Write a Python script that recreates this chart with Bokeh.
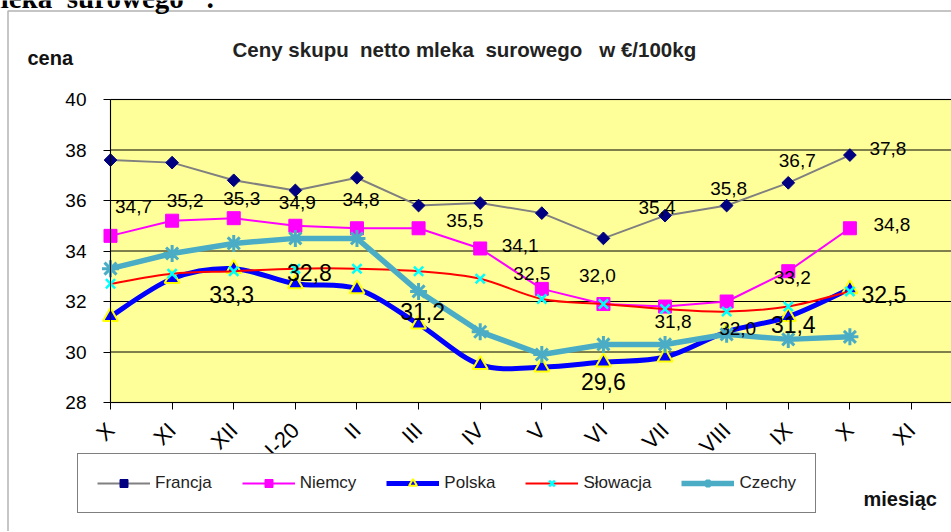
import math
from bokeh.plotting import figure
from bokeh.models import (ColumnDataSource, FixedTicker, Legend, LegendItem,
                          Label, Range1d, LinearAxis, BoxAnnotation)
from bokeh.core.properties import value
from bokeh.embed import file_html
from bokeh.resources import INLINE

# ---------------- data ----------------
months = ["X", "XI", "XII", "I-20", "II", "III", "IV", "V", "VI", "VII",
          "VIII", "IX", "X", "XI"]
y_ticks = [28, 30, 32, 34, 36, 38, 40]

francja = [37.6, 37.5, 36.8, 36.4, 36.9, 35.8, 35.9, 35.5, 34.5, 35.4, 35.8, 36.7, 37.8]
niemcy = [34.6, 35.2, 35.3, 35.0, 34.9, 34.9, 34.1, 32.5, 31.9, 31.8, 32.0, 33.2, 34.9]
polska = [31.4, 32.9, 33.3, 32.7, 32.5, 31.1, 29.5, 29.4, 29.6, 29.8, 30.8, 31.4, 32.5]
slowacja = [32.7, 33.1, 33.2, 33.3, 33.3, 33.2, 32.9, 32.1, 31.9, 31.7, 31.6, 31.8, 32.4]
czechy = [33.3, 33.9, 34.3, 34.5, 34.5, 32.4, 30.8, 29.9, 30.3, 30.3, 30.7, 30.5, 30.6]

series_names = ["Francja", "Niemcy", "Polska", "Słowacja", "Czechy"]

# data labels: (series, point index, text)
label_series = ["Francja"] * 5 + ["Niemcy"] * 12 + ["Polska"] * 6
label_index = [7, 9, 10, 11, 12,
               0, 1, 2, 3, 4, 6, 7, 8, 9, 10, 11, 12,
               2, 3, 5, 8, 11, 12]
label_text = ["35,5", "35,4", "35,8", "36,7", "37,8",
              "34,7", "35,2", "35,3", "34,9", "34,8", "34,1", "32,5", "32,0", "31,8", "32,0", "33,2", "34,8",
              "33,3", "32,8", "31,2", "29,6", "31,4", "32,5"]

header_text = "mleka\u00a0 surowego\u201d :"
title_text = "Ceny skupu\u00a0 netto mleka\u00a0 surowego\u00a0\u00a0 w €/100kg"
y_title = "cena"
x_title = "miesiąc"

# ---------------- styling / layout ----------------
label_dx = [-77, -8, 2, 9, 38,
            23, 13, 8, 2, 4, 40, -10, -6, 8, 11, 4, 42,
            -2, 14, 4, 0, 5, 34]
label_dy = [7, -8, -17, -22, -7,
            -29, -20, -20, -23, -29, -3, -15, -29, 15, 27, 6, -4,
            26, -11, -13, 19, 8, 6]

FONT = "Liberation Sans"
W, H = 951, 531
# plot area in canvas pixels
PL, PR, PT, PB = 110, 911, 99, 402
x_lo, x_hi = 0, len(months) - 1
y_lo, y_hi = y_ticks[0], y_ticks[-1]
pxu = (PR - PL) / (x_hi - x_lo)
pyu = (PB - PT) / (y_hi - y_lo)

values = dict(zip(series_names, [francja, niemcy, polska, slowacja, czechy]))
xs = list(range(len(francja)))

styles = {
    "Francja": dict(line_color="#808080", line_width=2, marker="square", angle=math.pi / 4,
                    size=9, fill_color="#000080", m_line_color="#000080", m_line_width=1),
    "Niemcy": dict(line_color="#FF00FF", line_width=2, marker="square", angle=0,
                   size=13, fill_color="#FF00FF", m_line_color="#FF00FF", m_line_width=1),
    "Polska": dict(line_color="#0000FF", line_width=5, marker="triangle", angle=0,
                   size=15, fill_color="#0000FF", m_line_color="#FFFF00", m_line_width=2),
    "Słowacja": dict(line_color="#FF0000", line_width=2, marker="x", angle=0,
                     size=13, fill_color=None, m_line_color="#00FFFF", m_line_width=2.5),
    "Czechy": dict(line_color="#4BACC6", line_width=5.5, marker="asterisk", angle=0,
                   size=17, fill_color=None, m_line_color="#4BACC6", m_line_width=3),
}
smooth = {"Polska", "Słowacja"}


def smooth_source(xv, yv):
    n = len(xv)
    d = dict(x0=[], y0=[], x1=[], y1=[], cx0=[], cy0=[], cx1=[], cy1=[])
    for i in range(n - 1):
        a = i - 1 if i > 0 else i
        b = i + 2 if i + 2 < n else i + 1
        d["x0"].append(xv[i]); d["y0"].append(yv[i])
        d["x1"].append(xv[i + 1]); d["y1"].append(yv[i + 1])
        d["cx0"].append(xv[i] + (xv[i + 1] - xv[a]) / 6)
        d["cy0"].append(yv[i] + (yv[i + 1] - yv[a]) / 6)
        d["cx1"].append(xv[i + 1] - (xv[b] - xv[i]) / 6)
        d["cy1"].append(yv[i + 1] - (yv[b] - yv[i]) / 6)
    return ColumnDataSource(d)


p = figure(width=W, height=H,
           x_range=Range1d(x_lo - PL / pxu, x_hi + (W - PR) / pxu),
           y_range=Range1d(y_lo - (H - PB) / pyu, y_hi + PT / pyu),
           min_border=0, x_axis_type=None, y_axis_type=None,
           output_backend="svg", toolbar_location=None,
           background_fill_color="white", border_fill_color="white",
           outline_line_color=None)
p.xgrid.visible = False
p.ygrid.visible = False

# outer chart border (left + top edges)
p.add_layout(BoxAnnotation(left=7.5, right=W + 20, top=H - 10.5, bottom=-20,
                           left_units="screen", right_units="screen",
                           top_units="screen", bottom_units="screen",
                           fill_alpha=0, line_color="black", line_width=1.5))

# plot area
p.add_layout(BoxAnnotation(left=x_lo, right=x_hi + 1, bottom=y_lo, top=y_hi,
                           fill_color="#FFFF99", fill_alpha=1,
                           line_color="#404040", line_width=1.5, level="underlay"))
p.segment(x0=[x_lo] * len(y_ticks), x1=[x_hi + 1] * len(y_ticks), y0=y_ticks, y1=y_ticks,
          line_color="black", line_width=1)

yaxis = LinearAxis(fixed_location=x_lo, bounds=(y_lo, y_hi),
                   ticker=FixedTicker(ticks=y_ticks))
yaxis.major_label_text_font = FONT
yaxis.major_label_text_font_size = "19px"
yaxis.major_label_text_color = "black"
yaxis.major_tick_out = 7
yaxis.major_tick_in = 0
yaxis.minor_tick_line_color = None
yaxis.axis_line_color = "black"
yaxis.major_tick_line_color = "black"
yaxis.major_label_standoff = 17
p.add_layout(yaxis, "left")

xaxis = LinearAxis(fixed_location=y_lo, bounds=(x_lo, x_hi + 1),
                   ticker=FixedTicker(ticks=list(range(len(months)))))
xaxis.major_label_overrides = {i: m for i, m in enumerate(months)}
xaxis.major_label_orientation = math.pi / 4
xaxis.major_label_text_font = FONT
xaxis.major_label_text_font_size = "22px"
xaxis.major_label_text_color = "black"
xaxis.major_tick_out = 7
xaxis.major_tick_in = 0
xaxis.minor_tick_line_color = None
xaxis.axis_line_color = "black"
xaxis.major_tick_line_color = "black"
xaxis.major_label_standoff = 17
p.add_layout(xaxis, "below")

leg_items = []
for name in series_names:
    st = styles[name]
    src = ColumnDataSource(dict(x=xs, y=values[name]))
    if name in smooth:
        lr = p.bezier(x0="x0", y0="y0", x1="x1", y1="y1", cx0="cx0", cy0="cy0",
                      cx1="cx1", cy1="cy1", source=smooth_source(xs, values[name]),
                      line_color=st["line_color"], line_width=st["line_width"])
    else:
        lr = p.line("x", "y", source=src, line_color=st["line_color"],
                    line_width=st["line_width"])
    mr = p.scatter("x", "y", source=src, marker=st["marker"], angle=st["angle"],
                   size=st["size"], fill_color=st["fill_color"],
                   line_color=st["m_line_color"], line_width=st["m_line_width"])
    leg_items.append(LegendItem(label=name, renderers=[lr, mr]))

lx = [label_index[i] for i in range(len(label_text))]
ly = [values[label_series[i]][label_index[i]] for i in range(len(label_text))]
lsrc = ColumnDataSource(dict(x=lx, y=ly, text=label_text, dx=label_dx, dy=label_dy,
                             size=["23px" if s == "Polska" else "19px" for s in label_series]))
p.text("x", "y", text="text", source=lsrc, x_offset="dx", y_offset="dy",
       text_font=value(FONT), text_font_size="size", text_color="black",
       text_align="center", text_baseline="middle")

legend = Legend(items=leg_items, location=(77, 18), orientation="horizontal",
                label_text_font=FONT, label_text_font_size="17px",
                label_text_color="#222222",
                glyph_width=53, glyph_height=20, label_standoff=5, spacing=30,
                padding=19, margin=0,
                border_line_color="black", border_line_width=1.5,
                background_fill_color="white", background_fill_alpha=1)
p.add_layout(legend, "center")

p.add_layout(Label(x=-24, y=H + 3, x_units="screen", y_units="screen", text=header_text,
                   text_font="Liberation Serif", text_font_size="29px", text_font_style="bold",
                   text_color="black", text_baseline="alphabetic", text_align="left"))
p.add_layout(Label(x=27, y=H - 57, x_units="screen", y_units="screen", text=y_title,
                   text_font=FONT, text_font_size="20px", text_font_style="bold",
                   text_color="#111111", text_baseline="middle", text_align="left"))
p.add_layout(Label(x=232, y=H - 49, x_units="screen", y_units="screen", text=title_text,
                   text_font=FONT, text_font_size="20.5px", text_font_style="bold",
                   text_color="#222222", text_baseline="middle", text_align="left"))
p.add_layout(Label(x=863, y=H - 498, x_units="screen", y_units="screen", text=x_title,
                   text_font=FONT, text_font_size="20px", text_font_style="bold",
                   text_color="#111111", text_baseline="middle", text_align="left"))

open("out.html", "w").write(file_html(p, INLINE))
